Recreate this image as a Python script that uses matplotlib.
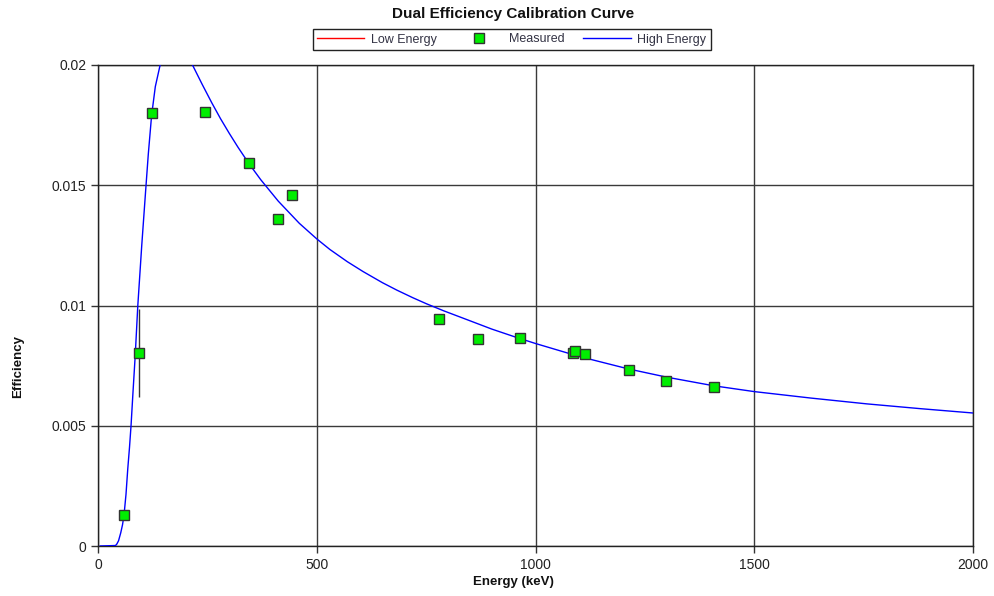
import matplotlib
matplotlib.use("Agg")
import matplotlib.pyplot as plt
from matplotlib.lines import Line2D

plt.rcParams['font.family'] = ['Liberation Sans', 'DejaVu Sans']

# Measured calibration points (keV, efficiency) with uncertainty
meas_energy = [59.5, 94, 122.5, 245, 345, 412, 444, 779, 868, 964,
               1085, 1090, 1112, 1213, 1298, 1408]
meas_eff = [0.00128, 0.00801, 0.01799, 0.01805, 0.01593, 0.0136, 0.0146,
            0.00943, 0.00859, 0.00864, 0.00802, 0.00811, 0.00799,
            0.00732, 0.00687, 0.00661]
meas_err = [0, 0.00183, 0, 0, 0, 0, 0, 0, 0, 0, 0, 0, 0, 0, 0, 0]

# High-energy calibration curve (keV, efficiency)
curve_energy = [5, 40, 43, 47, 52, 56, 59.5, 64, 68, 72, 75.5, 80, 85, 91,
                100, 109, 115, 122.5, 131, 142, 150, 160, 170, 185, 200, 216,
                238, 260, 280, 300, 320, 345, 372, 412, 460, 500, 530, 570,
                606, 650, 683, 720, 751, 790, 835, 900, 957, 1000, 1100, 1213,
                1300, 1408, 1500, 1630, 1757, 1880, 2000]
curve_eff = [0, 0.00002, 0.00008, 0.00022, 0.00055, 0.00088, 0.00129,
             0.00215, 0.0032, 0.0041, 0.0050, 0.0064, 0.0079, 0.0100,
             0.0125, 0.0148, 0.0163, 0.0179, 0.0191, 0.0200, 0.0206, 0.0211,
             0.0213, 0.0212, 0.0207, 0.0200, 0.0192, 0.01843, 0.01777,
             0.01716, 0.01658, 0.0159, 0.01523, 0.01434, 0.01342, 0.01277,
             0.01233, 0.01182, 0.01141, 0.01095, 0.01064, 0.01032, 0.01007,
             0.00978, 0.00947, 0.00902, 0.00867, 0.00842, 0.00788, 0.00736,
             0.00702, 0.00666, 0.00642, 0.00615, 0.00591, 0.00571, 0.00553]

x_ticks = [0, 500, 1000, 1500, 2000]
y_ticks = [0, 0.005, 0.01, 0.015, 0.02]
y_tick_labels = ["0", "0.005", "0.01", "0.015", "0.02"]

fig = plt.figure(figsize=(9.94, 5.96), dpi=100)
ax = fig.add_axes([98 / 994, 1 - 546 / 596, 875 / 994, 481 / 596])

ax.plot(curve_energy, curve_eff, color='#0000ff', lw=1.0, zorder=3)
ax.errorbar(meas_energy, meas_eff, yerr=meas_err, fmt='none',
            ecolor='#333333', elinewidth=1.0, capsize=0, zorder=4)
ax.plot(meas_energy, meas_eff, ls='none', marker='s', markersize=6.5,
        markerfacecolor='#00ee00', markeredgecolor='#333333',
        markeredgewidth=1.0, zorder=5)

ax.set_xlim(0, 2000)
ax.set_ylim(0, 0.02)
ax.set_xticks(x_ticks)
ax.set_yticks(y_ticks)
ax.set_yticklabels(y_tick_labels)
ax.grid(True, color='#3a3a3a', lw=1.0, zorder=1)
ax.set_axisbelow(True)
ax.tick_params(direction='out', length=5, width=1, colors='#333333',
               labelsize=10, labelcolor='#222222')
for s in ax.spines.values():
    s.set_color('#222222')
    s.set_linewidth(1.0)

fig.text(513 / 994, 1 - 14 / 596, "Dual Efficiency Calibration Curve",
         ha='center', va='center', fontsize=11, fontweight='bold', color='#111111')
fig.text(513 / 994, 1 - 582 / 596, "Energy (keV)", ha='center', va='center',
         fontsize=9.5, fontweight='bold', color='#111111')
fig.text(18.5 / 994, 1 - 366 / 596, "Efficiency", ha='center', va='center',
         rotation=90, fontsize=9.5, fontweight='bold', color='#111111')

handles = [
    Line2D([], [], color='#ff0000', lw=1.0),
    Line2D([], [], ls='none', marker='s', markersize=6.5,
           markerfacecolor='#00ee00', markeredgecolor='#333333'),
    Line2D([], [], color='#0000ff', lw=1.0),
]
labels = ["Low Energy", "Measured", "High Energy"]
leg = fig.legend(handles, labels, loc='center', ncol=3,
                 bbox_to_anchor=(511.5 / 994, 1 - 39.5 / 596),
                 frameon=True, fancybox=False, fontsize=9,
                 handlelength=3.8, handletextpad=0.5, columnspacing=1.5,
                 borderpad=0.35, edgecolor='#222222', framealpha=1)
leg.get_frame().set_linewidth(1.0)
for t in leg.get_texts():
    t.set_color('#333344')

fig.savefig("out.png", dpi=100)
